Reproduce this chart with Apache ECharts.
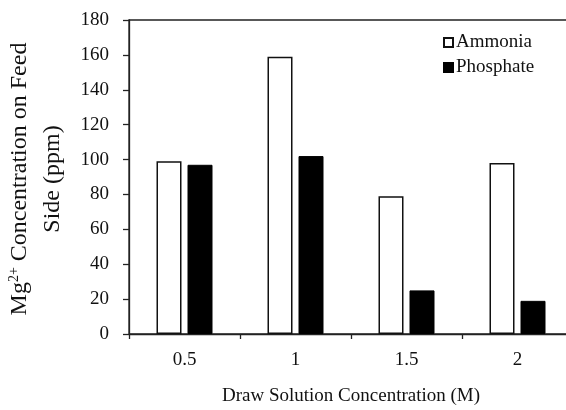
<!DOCTYPE html>
<html>
<head>
<meta charset="utf-8">
<script src="https://cdn.jsdelivr.net/npm/echarts@6/dist/echarts.min.js"></script>
<style>
  html, body { margin: 0; padding: 0; background: #fff; }
  #chart { width: 566px; height: 410px; }
</style>
</head>
<body>
<div id="chart"></div>
<script>
// Draw solution concentrations (M) on the category axis
const categories = ['0.5', '1', '1.5', '2'];
// Mg2+ concentration on the feed side (ppm)
const ammonia = [99, 159, 79, 98];
const phosphate = [97, 102, 25, 19];
// Value axis range
const yMin = 0;
const yMax = 180;
const yStep = 20;

const serif = '"Liberation Serif", "Times New Roman", serif';

const chart = echarts.init(document.getElementById('chart'), null, { renderer: 'canvas' });

chart.setOption({
  backgroundColor: '#ffffff',
  animation: false,
  grid: {
    left: 129,
    top: 20,
    width: 444,
    height: 314,
    outerBoundsMode: 'none',
    containLabel: false,
    show: true,
    borderColor: '#222',
    borderWidth: 1.3,
    backgroundColor: 'transparent'
  },
  legend: {
    orient: 'vertical',
    left: 438,
    top: 28,
    itemWidth: 9,
    itemHeight: 9,
    itemGap: 6,
    icon: 'rect',
    textStyle: { fontFamily: serif, fontSize: 19, color: '#111', padding: [0, 0, 0, -2] },
    data: ['Ammonia', 'Phosphate']
  },
  xAxis: {
    type: 'category',
    data: categories,
    name: 'Draw Solution Concentration (M)',
    nameLocation: 'middle',
    nameGap: 53,
    nameTextStyle: { fontFamily: serif, fontSize: 19, color: '#111' },
    axisLine: { lineStyle: { color: '#222', width: 1.3 } },
    axisTick: { show: true, length: 5, inside: false, lineStyle: { color: '#222', width: 1.3 } },
    axisLabel: { fontFamily: serif, fontSize: 19, color: '#111', margin: 17 },
    splitLine: { show: false }
  },
  yAxis: {
    type: 'value',
    min: yMin,
    max: yMax,
    interval: yStep,
    name: '{a|Mg}{sup|2+}{a| Concentration on Feed}\n{a|Side (ppm)}',
    nameLocation: 'middle',
    nameGap: 55,
    nameRotate: 90,
    nameTextStyle: {
      fontFamily: serif,
      fontSize: 24,
      color: '#111',
      lineHeight: 33,
      padding: [0, 4, 0, 0],
      rich: {
        a: { fontFamily: serif, fontSize: 24, color: '#111', lineHeight: 33 },
        sup: { fontFamily: serif, fontSize: 14, color: '#111', lineHeight: 33, padding: [0, 0, 12, 0] }
      }
    },
    axisLine: { show: true, lineStyle: { color: '#222', width: 1.3 } },
    axisTick: { show: true, length: 6, inside: false, lineStyle: { color: '#222', width: 1.3 } },
    axisLabel: { fontFamily: serif, fontSize: 19, color: '#111', margin: 20 },
    splitLine: { show: false }
  },
  series: [
    {
      name: 'Ammonia',
      type: 'bar',
      data: ammonia,
      barWidth: 25,
      barGap: '24%',
      itemStyle: { color: '#ffffff', borderColor: '#111', borderWidth: 1.5 }
    },
    {
      name: 'Phosphate',
      type: 'bar',
      data: phosphate,
      barWidth: 25,
      barGap: '24%',
      itemStyle: { color: '#000000', borderColor: '#000', borderWidth: 1 }
    }
  ]
});
</script>
</body>
</html>
